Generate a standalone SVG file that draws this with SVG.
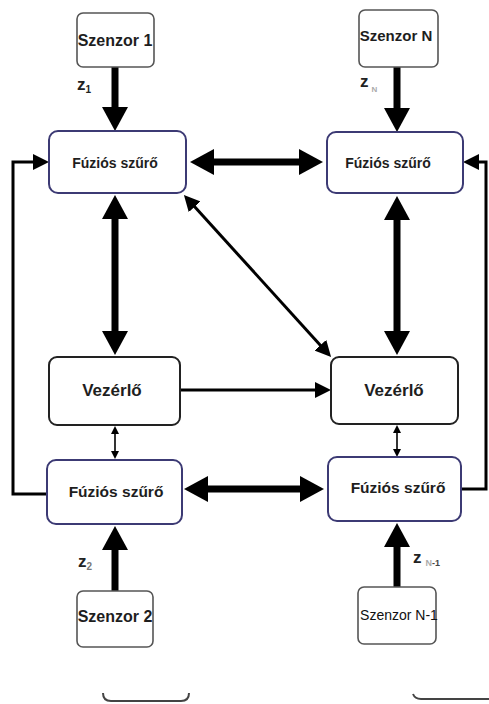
<svg xmlns="http://www.w3.org/2000/svg" width="489" height="704" viewBox="0 0 489 704">
<defs>
<style>
.sensor{fill:#fff;stroke:#555;stroke-width:1.6}
.ff{fill:#fff;stroke:#3c3a74;stroke-width:2}
.vez{fill:#fff;stroke:#222;stroke-width:2}
.t{font-family:"Liberation Sans",Arial,sans-serif;font-weight:bold;fill:#1e1e1e;text-anchor:middle}
.thick{stroke:#000;stroke-width:7;fill:none;marker-end:url(#ah)}
.thick2{stroke:#000;stroke-width:7;fill:none;marker-start:url(#ah);marker-end:url(#ah)}
.thin{stroke:#000;stroke-width:3;fill:none;marker-end:url(#at)}
.small{stroke:#000;stroke-width:1.6;fill:none;marker-start:url(#as);marker-end:url(#as)}
.lbl{font-family:"Liberation Sans",Arial,sans-serif;font-weight:bold;fill:#222}
</style>
<marker id="ah" markerUnits="userSpaceOnUse" markerWidth="24" markerHeight="26" viewBox="0 0 24 26" refX="2" refY="13" orient="auto-start-reverse"><path d="M0,0 L24,13 L0,26 z" fill="#000"/></marker>
<marker id="at" markerUnits="userSpaceOnUse" markerWidth="16" markerHeight="16" viewBox="0 0 16 16" refX="1" refY="8" orient="auto-start-reverse"><path d="M0,0 L16,8 L0,16 z" fill="#000"/></marker>
<marker id="as" markerUnits="userSpaceOnUse" markerWidth="8" markerHeight="8" viewBox="0 0 8 8" refX="1" refY="4" orient="auto-start-reverse"><path d="M0,0 L8,4 L0,8 z" fill="#000"/></marker>
</defs>
<rect width="489" height="704" fill="#fff"/>
<g id="connectors">
<line class="thick" x1="115" y1="67" x2="115" y2="109"/>
<line class="thick" x1="397" y1="67" x2="397" y2="110"/>
<line class="thick2" x1="212" y1="162" x2="301" y2="162"/>
<line class="thick2" x1="115" y1="217" x2="115" y2="333"/>
<line class="thick2" x1="397" y1="218" x2="397" y2="333"/>
<line class="thick2" x1="206" y1="489" x2="302" y2="489"/>
<line class="thick" x1="115" y1="591" x2="115" y2="548"/>
<line class="thick" x1="397" y1="587" x2="397" y2="545"/>
<line class="thin" x1="194" y1="206" x2="321" y2="346" style="marker-start:url(#at)"/>
<line class="thin" x1="180" y1="390" x2="316" y2="390"/>
<polyline class="thin" points="47,494 13,494 13,162 34,162"/>
<polyline class="thin" points="461,489 486,489 486,162 478,162"/>
<line class="small" x1="115" y1="433" x2="115" y2="452"/>
<line class="small" x1="397" y1="432" x2="397" y2="450"/>
</g>
<g id="szenzor1"><rect class="sensor" x="77" y="13" width="77" height="54" rx="6"/><text class="t" x="115" y="46" font-size="16">Szenzor 1</text></g>
<g id="szenzorN"><rect class="sensor" x="359" y="10" width="79" height="57" rx="6"/><text class="t" x="396" y="41" font-size="15">Szenzor N</text></g>
<g id="ff1"><rect class="ff" x="49" y="131" width="137" height="62" rx="9"/><text class="t" x="115" y="168" font-size="14">Fúziós szűrő</text></g>
<g id="ffN"><rect class="ff" x="327" y="132" width="136" height="61" rx="9"/><text class="t" x="388" y="168" font-size="14">Fúziós szűrő</text></g>
<g id="vez1"><rect class="vez" x="49" y="357" width="131" height="68" rx="8"/><text class="t" x="112" y="396" font-size="17">Vezérlő</text></g>
<g id="vez2"><rect class="vez" x="331" y="357" width="127" height="67" rx="8"/><text class="t" x="394" y="396" font-size="17">Vezérlő</text></g>
<g id="ff2"><rect class="ff" x="47" y="460" width="135" height="64" rx="9"/><text class="t" x="116" y="497" font-size="15.5">Fúziós szűrő</text></g>
<g id="ffN1"><rect class="ff" x="328" y="457" width="133" height="64" rx="9"/><text class="t" x="398" y="493" font-size="15.5">Fúziós szűrő</text></g>
<g id="szenzor2"><rect class="sensor" x="77" y="591" width="76" height="56" rx="6"/><text class="t" x="115" y="622" font-size="16">Szenzor 2</text></g>
<g id="szenzorN1"><rect class="sensor" x="358" y="587" width="78" height="57" rx="6"/><text class="t" x="399" y="620" font-size="14" style="font-weight:normal;fill:#111">Szenzor N-1</text></g>
<g id="labels">
<text class="lbl" x="77" y="90" font-size="17">z<tspan font-size="10" dy="3">1</tspan></text>
<text class="lbl" x="360" y="87" font-size="17">z<tspan font-size="8" dx="3" dy="5" fill="#aaa">N</tspan></text>
<text class="lbl" x="78" y="567" font-size="17">z<tspan font-size="10" dy="3" fill="#777">2</tspan></text>
<text class="lbl" x="413" y="563" font-size="17">z<tspan font-size="9" dx="4" dy="3" fill="#aaa">N</tspan><tspan font-size="9" fill="#444">-1</tspan></text>
</g>
<g id="partial">
<path d="M103,693 Q103,701 111,701 L181,701 Q189,701 189,693" fill="none" stroke="#444" stroke-width="2"/>
<path d="M413,694 Q415,699 421,699 L489,699" fill="none" stroke="#444" stroke-width="2"/>
</g>
</svg>
